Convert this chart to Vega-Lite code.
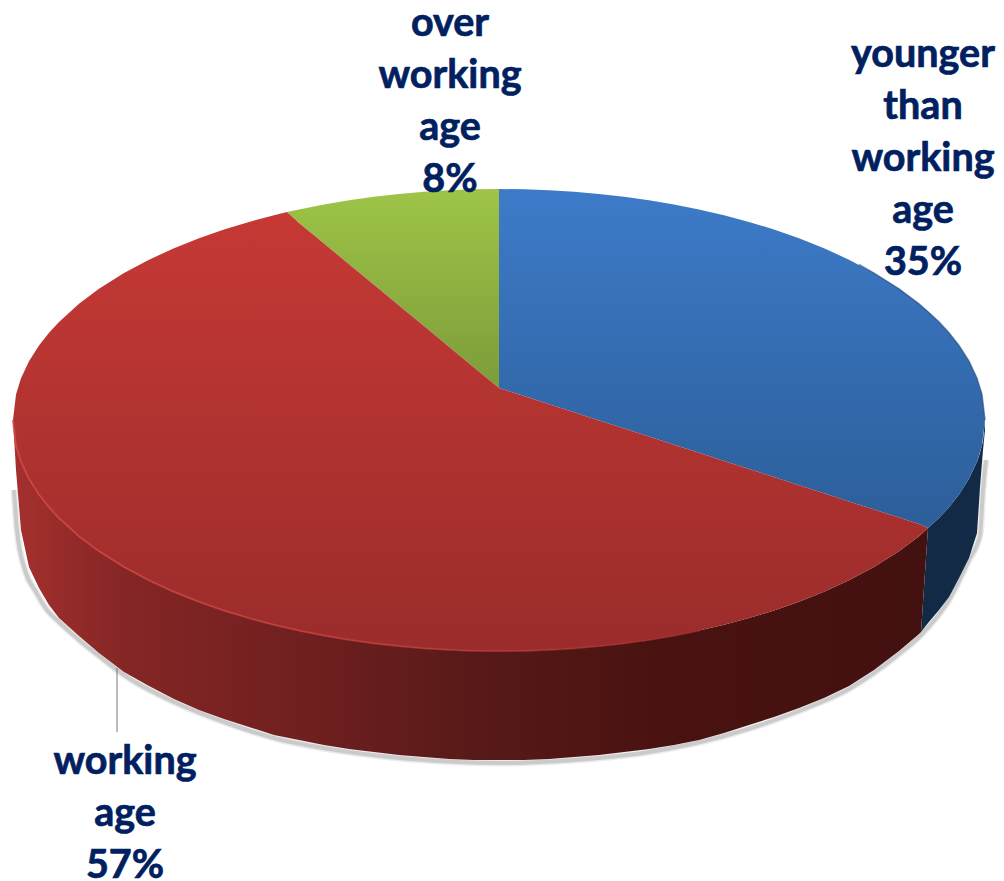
{"$schema":"https://vega.github.io/schema/vega-lite/v6.json","width":1004,"height":881,"padding":0,"autosize":{"type":"none"},"background":"white","config":{"view":{"stroke":null}},
"datasets":{
"blueTop":[{"x":499,"y":189,"y2":388},{"x":524,"y":189.3,"y2":396.1},{"x":549,"y":190.2,"y2":404.2},{"x":574,"y":191.8,"y2":412.3},{"x":599,"y":193.9,"y2":420.4},{"x":624,"y":196.8,"y2":428.5},{"x":649,"y":200.3,"y2":436.6},{"x":674,"y":204.5,"y2":444.7},{"x":699,"y":209.5,"y2":452.8},{"x":724,"y":215.2,"y2":460.9},{"x":749,"y":221.9,"y2":469},{"x":774,"y":229.5,"y2":477.1},{"x":799,"y":238.3,"y2":485.2},{"x":824,"y":248.2,"y2":493.3},{"x":849,"y":259.7,"y2":501.4},{"x":874,"y":273.1,"y2":509.5},{"x":899,"y":288.8,"y2":517.6},{"x":919,"y":303.8,"y2":524.1},{"x":928,"y":311.4,"y2":528},{"x":939,"y":321.9,"y2":518.1},{"x":949,"y":332.7,"y2":507.3},{"x":959,"y":345.5,"y2":494.5},{"x":969,"y":361.2,"y2":478.8},{"x":977,"y":378.3,"y2":461.7},{"x":982,"y":394.4,"y2":445.6},{"x":985,"y":420,"y2":420}],
"blueRim":[{"x":859,"y":264.5},{"x":874,"y":273.1},{"x":899,"y":288.8},{"x":919,"y":303.8},{"x":939,"y":321.9},{"x":949,"y":332.7},{"x":959,"y":345.5},{"x":969,"y":361.2},{"x":977,"y":378.3},{"x":982,"y":394.4},{"x":985,"y":420}],
"redTop":[{"x":13,"y":420,"y2":420},{"x":16,"y":394.4,"y2":445.6},{"x":21,"y":378.3,"y2":461.7},{"x":29,"y":361.2,"y2":478.8},{"x":39,"y":345.5,"y2":494.5},{"x":49,"y":332.7,"y2":507.3},{"x":59,"y":321.9,"y2":518.1},{"x":79,"y":303.8,"y2":536.2},{"x":99,"y":288.8,"y2":551.2},{"x":124,"y":273.1,"y2":566.9},{"x":149,"y":259.7,"y2":580.3},{"x":174,"y":248.2,"y2":591.8},{"x":199,"y":238.3,"y2":601.7},{"x":224,"y":229.5,"y2":610.5},{"x":249,"y":221.9,"y2":618.1},{"x":274,"y":215.2,"y2":624.8},{"x":287,"y":212.1,"y2":627.9},{"x":299,"y":222.9,"y2":630.5},{"x":324,"y":243.5,"y2":635.5},{"x":349,"y":264.2,"y2":639.7},{"x":374,"y":284.8,"y2":643.2},{"x":399,"y":305.5,"y2":646.1},{"x":424,"y":326.1,"y2":648.2},{"x":449,"y":346.7,"y2":649.8},{"x":474,"y":367.4,"y2":650.7},{"x":499,"y":388,"y2":651},{"x":524,"y":396.1,"y2":650.7},{"x":549,"y":404.2,"y2":649.8},{"x":574,"y":412.3,"y2":648.2},{"x":599,"y":420.4,"y2":646.1},{"x":624,"y":428.5,"y2":643.2},{"x":649,"y":436.6,"y2":639.7},{"x":674,"y":444.7,"y2":635.5},{"x":699,"y":452.8,"y2":630.5},{"x":724,"y":460.9,"y2":624.8},{"x":749,"y":469,"y2":618.1},{"x":774,"y":477.1,"y2":610.5},{"x":799,"y":485.2,"y2":601.7},{"x":824,"y":493.3,"y2":591.8},{"x":849,"y":501.4,"y2":580.3},{"x":874,"y":509.5,"y2":566.9},{"x":899,"y":517.6,"y2":551.2},{"x":919,"y":524.1,"y2":536.2},{"x":928,"y":528,"y2":528}],
"greenTop":[{"x":287,"y":212.1,"y2":212.1},{"x":299,"y":209.5,"y2":222.9},{"x":324,"y":204.5,"y2":243.5},{"x":349,"y":200.3,"y2":264.2},{"x":374,"y":196.8,"y2":284.8},{"x":399,"y":193.9,"y2":305.5},{"x":424,"y":191.8,"y2":326.1},{"x":449,"y":190.2,"y2":346.7},{"x":474,"y":189.3,"y2":367.4},{"x":499,"y":189,"y2":388}],
"redWall":[{"x":13,"y":420,"y2":420},{"x":16,"y":445.6,"y2":470},{"x":21,"y":461.7,"y2":530},{"x":29,"y":478.8,"y2":567},{"x":39,"y":494.5,"y2":588},{"x":49,"y":507.3,"y2":605},{"x":59,"y":518.1,"y2":618},{"x":79,"y":536.2,"y2":636},{"x":99,"y":551.2,"y2":653},{"x":124,"y":566.9,"y2":672},{"x":149,"y":580.3,"y2":686},{"x":174,"y":591.8,"y2":699},{"x":199,"y":601.7,"y2":710},{"x":224,"y":610.5,"y2":719},{"x":249,"y":618.1,"y2":727},{"x":274,"y":624.8,"y2":735},{"x":299,"y":630.5,"y2":740},{"x":324,"y":635.5,"y2":745},{"x":349,"y":639.7,"y2":749},{"x":374,"y":643.2,"y2":752},{"x":399,"y":646.1,"y2":755},{"x":424,"y":648.2,"y2":757},{"x":449,"y":649.8,"y2":759},{"x":474,"y":650.7,"y2":760},{"x":499,"y":651,"y2":760},{"x":524,"y":650.7,"y2":760},{"x":549,"y":649.8,"y2":759},{"x":574,"y":648.2,"y2":757},{"x":599,"y":646.1,"y2":755},{"x":624,"y":643.2,"y2":752},{"x":649,"y":639.7,"y2":749},{"x":674,"y":635.5,"y2":745},{"x":699,"y":630.5,"y2":740},{"x":724,"y":624.8,"y2":733},{"x":749,"y":618.1,"y2":725},{"x":774,"y":610.5,"y2":717},{"x":799,"y":601.7,"y2":708},{"x":824,"y":591.8,"y2":698},{"x":849,"y":580.3,"y2":686},{"x":874,"y":566.9,"y2":670},{"x":899,"y":551.2,"y2":651},{"x":919,"y":536.2,"y2":634},{"x":921,"y":534.5,"y2":632},{"x":928,"y":528,"y2":528}],
"blueWall":[{"x":921,"y":632,"y2":632},{"x":928,"y":528,"y2":623},{"x":939,"y":518.1,"y2":610},{"x":949,"y":507.3,"y2":597},{"x":959,"y":494.5,"y2":578},{"x":969,"y":478.8,"y2":558},{"x":977,"y":461.7,"y2":533},{"x":980,"y":453,"y2":487},{"x":983,"y":441,"y2":450},{"x":985,"y":420,"y2":430}],
"shadow":[{"x":14,"y":490},{"x":17,"y":530},{"x":25,"y":570},{"x":36,"y":592},{"x":47,"y":610},{"x":59,"y":622},{"x":79,"y":640},{"x":99,"y":656},{"x":124,"y":675},{"x":174,"y":702},{"x":224,"y":722},{"x":274,"y":738},{"x":349,"y":752},{"x":424,"y":760},{"x":499,"y":763},{"x":574,"y":760},{"x":649,"y":752},{"x":724,"y":736},{"x":799,"y":711},{"x":849,"y":689},{"x":899,"y":654},{"x":921,"y":635},{"x":949,"y":600},{"x":969,"y":560},{"x":980,"y":535},{"x":983,"y":490},{"x":986,"y":460}],
"leader":[{"x":117,"y":668,"y2":732}],
"labels":[{"label":"over","x":450,"y":36},{"label":"working","x":450,"y":88},{"label":"age","x":450,"y":140},{"label":"8%","x":450,"y":192},{"label":"younger","x":923,"y":67},{"label":"than","x":923,"y":119},{"label":"working","x":923,"y":171},{"label":"age","x":923,"y":223},{"label":"35%","x":923,"y":275},{"label":"working","x":125,"y":774},{"label":"age","x":125,"y":826},{"label":"57%","x":125,"y":878}]
},
"encoding":{"x":{"field":"x","type":"quantitative","scale":{"domain":[0,1004]},"axis":null},"y":{"field":"y","type":"quantitative","scale":{"domain":[881,0]},"axis":null}},
"layer":[
{"data":{"name":"leader"},"mark":{"type":"rule","color":"#A6A6A6","strokeWidth":1.5},"encoding":{"y2":{"field":"y2"}}},
{"data":{"name":"shadow"},"mark":{"type":"line","interpolate":"monotone","color":"#666666","strokeWidth":7,"opacity":0.12}},
{"data":{"name":"shadow"},"mark":{"type":"line","interpolate":"monotone","color":"#666666","strokeWidth":4,"opacity":0.25}},
{"data":{"name":"blueWall"},"mark":{"type":"area","color":"#132A47"},"encoding":{"y2":{"field":"y2"}}},
{"data":{"name":"redWall"},"mark":{"type":"area","color":{"gradient":"linear","x1":0,"y1":0,"x2":1,"y2":0,"stops":[{"offset":0,"color":"#A5302E"},{"offset":0.12,"color":"#852625"},{"offset":0.3,"color":"#722020"},{"offset":0.5,"color":"#581A18"},{"offset":0.72,"color":"#481210"},{"offset":1,"color":"#431110"}]}},"encoding":{"y2":{"field":"y2"}}},
{"data":{"name":"blueTop"},"mark":{"type":"area","color":{"gradient":"linear","x1":0,"y1":0,"x2":0,"y2":1,"stops":[{"offset":0,"color":"#3D7BC9"},{"offset":1,"color":"#2C5E99"}]}},"encoding":{"y2":{"field":"y2"}}},
{"data":{"name":"blueRim"},"mark":{"type":"line","color":"#1F4A78","strokeWidth":1.5,"opacity":0.6}},
{"data":{"name":"greenTop"},"mark":{"type":"area","color":{"gradient":"linear","x1":0,"y1":0,"x2":0,"y2":1,"stops":[{"offset":0,"color":"#9EC447"},{"offset":1,"color":"#7C9C3A"}]}},"encoding":{"y2":{"field":"y2"}}},
{"data":{"name":"redTop"},"mark":{"type":"area","color":{"gradient":"linear","x1":0,"y1":0,"x2":0,"y2":1,"stops":[{"offset":0,"color":"#C63935"},{"offset":1,"color":"#9A2C2B"}]}},"encoding":{"y2":{"field":"y2"}}},
{"data":{"name":"redWall"},"transform":[{"filter":"datum.x<=700"}],"mark":{"type":"line","strokeWidth":2,"opacity":0.8,"stroke":{"gradient":"linear","x1":0,"y1":0,"x2":1,"y2":0,"stops":[{"offset":0,"color":"#D04641"},{"offset":0.6,"color":"#B83A36"},{"offset":1,"color":"#9A2C2B"}]}}},
{"data":{"name":"labels"},"mark":{"type":"text","font":"Lato","fontWeight":"bold","fontSize":39.5,"color":"#002060","stroke":"#002060","strokeWidth":0.7,"align":"center","baseline":"alphabetic"},"encoding":{"text":{"field":"label"}}}
]}
